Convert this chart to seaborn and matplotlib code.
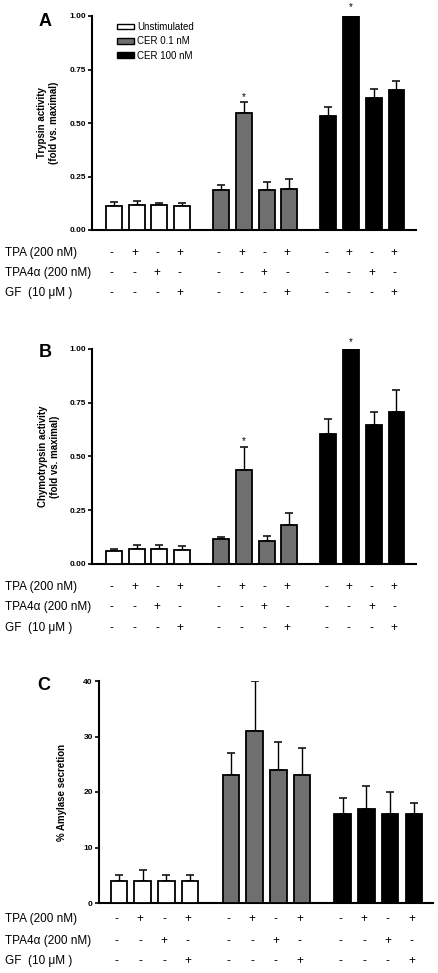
import numpy as np
import pandas as pd
import matplotlib
matplotlib.use("Agg")
import matplotlib.pyplot as plt
import matplotlib.transforms as mtransforms
from matplotlib.patches import Patch
import seaborn as sns

# ---------------- data ----------------
groups = ["Unstimulated", "CER 0.1 nM", "CER 100 nM"]
group_colors = ["#ffffff", "#6f6f6f", "#000000"]

trypsin_mean = [0.114, 0.118, 0.115, 0.112, 0.188, 0.546, 0.188, 0.193, 0.533, 1.000, 0.619, 0.656]
trypsin_err = [0.017, 0.019, 0.013, 0.012, 0.024, 0.051, 0.034, 0.045, 0.041, 0.000, 0.039, 0.038]

chymo_mean = [0.062, 0.068, 0.068, 0.065, 0.115, 0.436, 0.107, 0.180, 0.606, 1.000, 0.648, 0.709]
chymo_err = [0.006, 0.022, 0.020, 0.020, 0.012, 0.107, 0.022, 0.056, 0.068, 0.000, 0.057, 0.100]

amylase_mean = [4, 4, 4, 4, 23, 31, 24, 23, 16, 17, 16, 16]
amylase_err = [1, 2, 1, 1, 4, 9, 5, 5, 3, 4, 4, 2]

tpa_row = ["-", "+", "-", "+"] * 3
tpa4a_row = ["-", "-", "+", "-"] * 3
gf_row = ["-", "-", "-", "+"] * 3
row_labels = ["TPA (200 nM)", "TPA4\u03b1 (200 nM)", "GF  (10 \u03bcM )"]

sig_bars = [5, 9]  # bars marked with *

# ---------------- layout ----------------
W, H = 439, 973
sns.set_theme(style="white")
plt.rcParams["font.family"] = ["Liberation Sans", "DejaVu Sans"]
plt.rcParams.update({"text.color": "black", "axes.labelcolor": "black",
                     "xtick.color": "black", "ytick.color": "black"})

fig = plt.figure(figsize=(W / 100, H / 100), dpi=100)

n = len(trypsin_mean)
group_idx = [i // 4 for i in range(n)]
pos = [g * 4.72 + (i % 4) for i, g in enumerate(group_idx)]


def px_axes(left, top, right, bottom):
    return fig.add_axes([left / W, 1 - bottom / H, (right - left) / W, (bottom - top) / H])


panels = [
    dict(box=(92, 16, 416, 230), mean=trypsin_mean, err=trypsin_err,
         ylabel="Trypsin activity\n(fold vs. maximal)", ylim=(0, 1.0),
         ticks=[0, 0.25, 0.5, 0.75, 1.0], dec=True, letter="A",
         letter_xy=(45, 21.5), label_x=48, rows=(253, 273, 293),
         xlim=(-0.97, 13.3), star_y=[0.62, 1.04], legend=True),
    dict(box=(92, 349, 416, 564), mean=chymo_mean, err=chymo_err,
         ylabel="Chymotrypsin activity\n(fold vs. maximal)", ylim=(0, 1.0),
         ticks=[0, 0.25, 0.5, 0.75, 1.0], dec=True, letter="B",
         letter_xy=(45, 353), label_x=49, rows=(587, 607, 628),
         xlim=(-0.97, 13.3), star_y=[0.57, 1.03], legend=False),
    dict(box=(99, 681, 433, 903), mean=amylase_mean, err=amylase_err,
         ylabel="% Amylase secretion", ylim=(0, 40),
         ticks=[0, 10, 20, 30, 40], dec=False, letter="C",
         letter_xy=(44, 686), label_x=62, rows=(919, 941, 961),
         xlim=(-0.84, 13.25), star_y=None, legend=False),
]

for p in panels:
    ax = px_axes(*p["box"])
    df = pd.DataFrame({
        "pos": pos,
        "value": p["mean"],
        "group": [groups[g] for g in group_idx],
    })
    sns.barplot(data=df, x="pos", y="value", hue="group", hue_order=groups,
                palette=group_colors, native_scale=True, dodge=False,
                width=0.7, errorbar=None, edgecolor="black", linewidth=1.3,
                legend=False, ax=ax, zorder=3)
    err = np.array(p["err"], dtype=float)
    ax.errorbar(pos, p["mean"], yerr=[np.zeros_like(err), err], fmt="none",
                ecolor="black", elinewidth=1.0, capsize=3, capthick=1.1, zorder=2)

    ax.set_xlim(*p["xlim"])
    ax.set_ylim(*p["ylim"])
    ax.set_yticks(p["ticks"])
    ax.set_yticklabels([f"{t:.2f}" if p["dec"] else str(int(t)) for t in p["ticks"]],
                       fontsize=6, fontweight="bold", color="black")
    ax.set_xticks([])
    ax.set_xlabel("")
    ax.tick_params(axis="y", direction="out", length=3, width=1.2, pad=1.5, left=True, colors="black")
    for s in ["top", "right"]:
        ax.spines[s].set_visible(False)
    for s in ["left", "bottom"]:
        ax.spines[s].set_linewidth(1.5)
        ax.spines[s].set_color("black")
    ax.patch.set_alpha(0)

    ax.set_ylabel(p["ylabel"], fontsize=7, fontweight="bold", ha="center", va="center",
                  multialignment="center", color="black")
    left = p["box"][0]
    ax.yaxis.set_label_coords((p["label_x"] - left) / (p["box"][2] - left), 0.5)

    fig.text(p["letter_xy"][0] / W, 1 - p["letter_xy"][1] / H, p["letter"],
             fontsize=13, fontweight="bold", ha="center", va="center", color="black")

    if p["star_y"] is not None:
        for b, sy in zip(sig_bars, p["star_y"]):
            ax.text(pos[b], sy, "*", ha="center", va="center", fontsize=7, clip_on=False,
                    color="black")

    if p["legend"]:
        handles = [Patch(facecolor=c, edgecolor="black", linewidth=1.0) for c in group_colors]
        ax.legend(handles, groups, loc="upper left",
                  bbox_to_anchor=((117 - left) / (p["box"][2] - left), (230 - 22) / 214),
                  frameon=False, fontsize=7, handlelength=1.75, handleheight=0.55,
                  handletextpad=0.35, labelspacing=0.45, borderpad=0, borderaxespad=0,
                  labelcolor="black")

    # condition table below the axis
    trans = mtransforms.blended_transform_factory(ax.transData, fig.transFigure)
    for row_y, lab, signs in zip(p["rows"], row_labels, [tpa_row, tpa4a_row, gf_row]):
        fy = 1 - row_y / H
        fig.text(5 / W, fy, lab, fontsize=8.5, ha="left", va="center", color="black")
        for x, s in zip(pos, signs):
            ax.text(x - 0.1, fy, s, transform=trans, fontsize=8.5, ha="center", va="center",
                    clip_on=False, color="black")

fig.savefig("out.png", dpi=100, facecolor="white")
